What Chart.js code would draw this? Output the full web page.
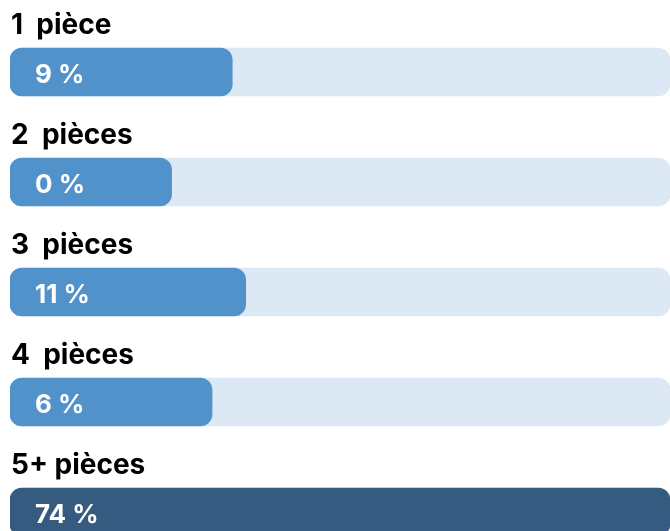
<!DOCTYPE html>
<html>
<head>
<meta charset="utf-8">
<script src="https://cdn.jsdelivr.net/npm/chart.js@4"></script>
<style>
  html, body { margin: 0; padding: 0; background: #fff; overflow: hidden; }
  #wrap { width: 670px; height: 531px; overflow: hidden; }
  #wrap div { width: 670px; height: 567px; position: relative; }
</style>
</head>
<body>
<div id="wrap"><div><canvas id="roomsChart"></canvas></div></div>
<script>
// Share of listings by number of rooms
const categories = ['1  pièce', '2  pièces', '3  pièces', '4  pièces', '5+ pièces'];
const percents = [9, 0, 11, 6, 74];
const valueLabels = ['9 %', '0 %', '11 %', '6 %', '74 %'];

// Axis range: the scale starts below zero so even 0 % keeps a visible stub
const X_MIN = -24;
const X_MAX = 74;

const BAR_COLOR = '#5292cb';
const TOP_COLOR = '#355b80';
const TRACK_COLOR = '#dce8f4';
const FONT = 'Inter, "Noto Sans", sans-serif';

// Draws the category title above each bar and the value inside it
const barTextPlugin = {
  id: 'barText',
  afterDatasetsDraw(chart) {
    const ctx = chart.ctx;
    const bars = chart.getDatasetMeta(0).data;
    ctx.save();
    ctx.textAlign = 'left';
    ctx.textBaseline = 'alphabetic';
    bars.forEach((bar, i) => {
      const top = bar.y - bar.height / 2;
      ctx.font = '700 28px ' + FONT;
      ctx.fillStyle = '#000000';
      ctx.fillText(categories[i], chart.chartArea.left + 1, top - 14);
      ctx.fillStyle = '#ffffff';
      ctx.font = '700 26px ' + FONT;
      ctx.fillText(valueLabels[i], chart.chartArea.left + 25, bar.y + 11);
    });
    ctx.restore();
  }
};

const maxIndex = percents.indexOf(Math.max(...percents));

new Chart(document.getElementById('roomsChart'), {
  type: 'bar',
  data: {
    labels: categories,
    datasets: [
      {
        label: 'Part',
        data: percents,
        base: X_MIN,
        backgroundColor: percents.map((v, i) => i === maxIndex ? TOP_COLOR : BAR_COLOR),
        borderRadius: 12,
        borderSkipped: false,
        barThickness: 48,
        grouped: false
      },
      {
        label: 'Track',
        data: percents.map(() => X_MAX),
        base: X_MIN,
        backgroundColor: TRACK_COLOR,
        borderRadius: 12,
        borderSkipped: false,
        barThickness: 48,
        grouped: false
      }
    ]
  },
  options: {
    indexAxis: 'y',
    responsive: true,
    maintainAspectRatio: false,
    animation: false,
    layout: { padding: { left: 10, right: 0, top: 17, bottom: 0 } },
    scales: {
      x: { display: false, min: X_MIN, max: X_MAX },
      y: { display: false }
    },
    plugins: {
      legend: { display: false },
      tooltip: { enabled: false }
    },
    events: []
  },
  plugins: [barTextPlugin]
});
</script>
</body>
</html>
